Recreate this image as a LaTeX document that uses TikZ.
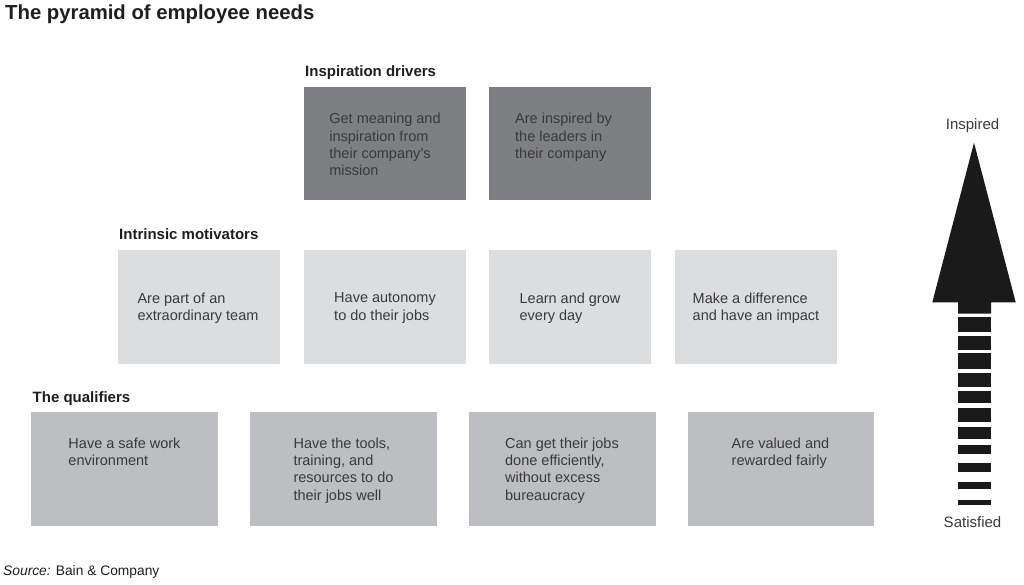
\documentclass[tikz,border=0pt]{standalone}
\usepackage{fontspec}
\setmainfont{Liberation Sans}
\definecolor{darkbox}{HTML}{7E7F82}
\definecolor{lightbox}{HTML}{DCDDDF}
\definecolor{midbox}{HTML}{BDBEC1}
\definecolor{txt}{HTML}{3A3A3C}
\definecolor{ttl}{HTML}{1E1E1E}
\definecolor{arr}{HTML}{1A1A1A}
\begin{document}
\begin{tikzpicture}[x=1pt,y=-1pt,
  boxdark/.style={fill=darkbox,draw=none,inner sep=0},
  boxlight/.style={fill=lightbox,draw=none,inner sep=0},
  boxmid/.style={fill=midbox,draw=none,inner sep=0},
  boxtext/.style={anchor=north,align=left,inner sep=0,text=txt,font=\fontsize{14.5}{17.3}\selectfont},
  heading/.style={anchor=base west,inner sep=0,text=ttl,font=\fontsize{15}{18}\selectfont\bfseries},
  scale label/.style={anchor=base,inner sep=0,text=txt,font=\fontsize{15}{18}\selectfont},
  stripe/.style={fill=arr,draw=none}]
\useasboundingbox (0,0) rectangle (1024,585);

% title
\node[anchor=base west,inner sep=0,text=ttl,font=\fontsize{20.3}{24}\selectfont\bfseries] (title) at (5,20) {The pyramid of employee needs};

% row 1
\node[heading] (h1) at (305,77) {Inspiration drivers};
\path[boxdark] (304,87) rectangle (466,200) coordinate (a1);
\path[boxdark] (489,87) rectangle (651,200) coordinate (a2);
\node[boxtext] (t11) at (385,113) {Get meaning and\\inspiration from\\their company’s\\mission};
\node[boxtext,anchor=north west] (t12) at (515,113) {Are inspired by\\the leaders in\\their company};

% row 2
\node[heading] (h2) at (119,239.5) {Intrinsic motivators};
\path[boxlight] (118,249.5) rectangle (280,363.5);
\path[boxlight] (304,249.5) rectangle (466,363.5);
\path[boxlight] (489,249.5) rectangle (651,363.5);
\path[boxlight] (675,249.5) rectangle (837,363.5);
\node[boxtext] (t21) at (198,292.8) {Are part of an\\extraordinary team};
\node[boxtext] (t22) at (385,292.8) {Have autonomy\\to do their jobs};
\node[boxtext] (t23) at (570,292.8) {Learn and grow\\every day};
\node[boxtext] (t24) at (756,292.8) {Make a difference\\and have an impact};

% row 3
\node[heading] (h3) at (32.5,402.7) {The qualifiers};
\path[boxmid] (31,411.5) rectangle (218,525.5);
\path[boxmid] (250,411.5) rectangle (437,525.5);
\path[boxmid] (469,411.5) rectangle (655.5,525.5);
\path[boxmid] (687.5,411.5) rectangle (873.5,525.5);
\node[boxtext] (t31) at (124.5,437.5) {Have a safe work\\environment};
\node[boxtext] (t32) at (343.5,437.5) {Have the tools,\\training, and\\resources to do\\their jobs well};
\node[boxtext] (t33) at (562,437.5) {Can get their jobs\\done efficiently,\\without excess\\bureaucracy};
\node[boxtext] (t34) at (780.5,437.5) {Are valued and\\rewarded fairly};

% arrow
\fill[arr] (974,142.7) -- (1015.7,302.3) -- (991,302.3) -- (991,313.5) -- (958,313.5) -- (958,302.3) -- (932.3,302.3) -- cycle;
\path[stripe] (958,316.7) rectangle (991,332.3);
\path[stripe] (958,335.7) rectangle (991,350);
\path[stripe] (958,353.3) rectangle (991,369.3);
\path[stripe] (958,372.7) rectangle (991,387);
\path[stripe] (958,390.7) rectangle (991,403.3);
\path[stripe] (958,408.3) rectangle (991,421.7);
\path[stripe] (958,426.7) rectangle (991,439.3);
\path[stripe] (958,445) rectangle (991,454);
\path[stripe] (958,463.3) rectangle (991,471.7);
\path[stripe] (958,481.7) rectangle (991,489.3);
\path[stripe] (958,500) rectangle (991,505);
\node[scale label] (top) at (972.5,129.3) {Inspired};
\node[scale label] (bottom) at (972.5,527) {Satisfied};

% source
\node[anchor=base west,inner sep=0,text=ttl,font=\fontsize{13.8}{16}\selectfont] (src) at (3,575) {\textit{Source:} Bain \& Company};
\end{tikzpicture}
\end{document}
